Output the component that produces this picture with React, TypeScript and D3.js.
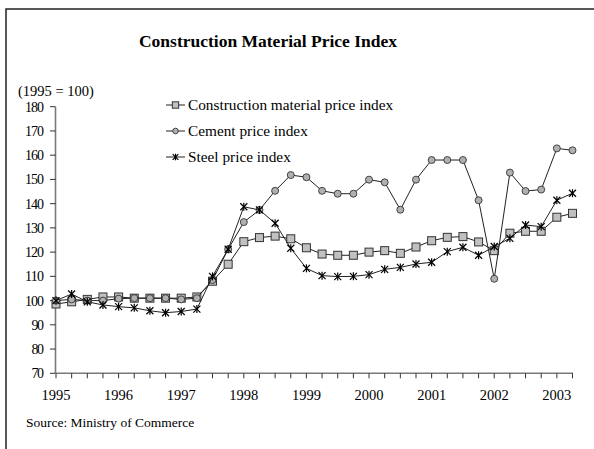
import * as React from "react"
import * as d3 from "d3"

const years = ["1995", "1996", "1997", "1998", "1999", "2000", "2001", "2002", "2003"]
const quarters = years.flatMap((y) => ["Q1", "Q2", "Q3", "Q4"].map((q) => `${y} ${q}`)).slice(0, 34)

const construction = [
  98.6, 99.5, 100.5, 101.5, 101.5, 101, 101, 101, 101, 101.5,
  108, 115, 124.3, 126, 126.6, 125.5, 121.8, 119.2, 118.7, 118.7,
  120, 120.6, 119.5, 122.1, 124.7, 126.1, 126.4, 124.2, 120.6, 127.8,
  128.6, 128.6, 134.4, 136,
]
const cement = [
  100, 100.5, 100, 100, 100.8, 101, 101, 101, 100.5, 101,
  108.5, 121.2, 132.4, 137.4, 145.3, 151.8, 150.9, 145.3, 144.1, 144.1,
  149.9, 148.8, 137.5, 149.9, 158, 158, 158, 141.4, 109, 152.8,
  145.2, 145.8, 162.8, 162,
]
const steel = [
  100, 102.7, 99.5, 98.2, 97.5, 97, 95.8, 95, 95.5, 96.5,
  110, 121.2, 138.7, 137.4, 131.9, 121.6, 113.3, 110.3, 109.9, 110,
  110.7, 112.9, 113.7, 115.1, 115.8, 120.2, 122, 118.7, 122.3, 125.7,
  131.2, 130.5, 141.4, 144.3,
]
const yTicks = [70, 80, 90, 100, 110, 120, 130, 140, 150, 160, 170, 180]

const seriesNames = [
  "Construction material price index",
  "Cement price index",
  "Steel price index",
]

const font = "'Liberation Serif', 'Times New Roman', serif"

function Marker({ kind, x, y, s = 1 }: { kind: number; x: number; y: number; s?: number }) {
  if (kind === 0)
    return (
      <rect
        x={x - 4 * s}
        y={y - 4 * s}
        width={8 * s}
        height={8 * s}
        fill="#c0c0c0"
        stroke="#333"
        strokeWidth={1}
      />
    )
  if (kind === 1) return <circle cx={x} cy={y} r={3.5 * s} fill="#b0b0b0" stroke="#333" strokeWidth={0.9} />
  const r = 3.5 * s
  return (
    <g stroke="#000" strokeWidth={1.2}>
      <line x1={x - r} y1={y - r} x2={x + r} y2={y + r} />
      <line x1={x - r} y1={y + r} x2={x + r} y2={y - r} />
      <line x1={x} y1={y - r - 0.5} x2={x} y2={y + r + 0.5} />
    </g>
  )
}

export default function App() {
  const width = 594
  const height = 449

  const x = d3.scalePoint<string>().domain(quarters).range([56, 572.5])
  const y = d3.scaleLinear().domain([70, 180]).range([373.3, 106.7])

  const line = d3
    .line<number>()
    .x((_, i) => x(quarters[i]) as number)
    .y((d) => y(d))

  const allSeries = [construction, cement, steel]
  const axisColor = "#7a7a7a"

  return (
    <svg
      width={width}
      height={height}
      style={{ position: "absolute", left: 0, top: 0, background: "#fff" }}
      fontFamily={font}
    >
      {/* frame */}
      <rect x={6} y={9} width={700} height={600} fill="none" stroke="#222" strokeWidth={1.5} />

      <text x={268} y={47} textAnchor="middle" fontSize={17.5} fontWeight="bold">
        Construction Material Price Index
      </text>
      <text x={18} y={96} fontSize={14.5}>
        (1995 = 100)
      </text>

      {/* y axis */}
      <line x1={55.5} x2={55.5} y1={y(180)} y2={y(70)} stroke={axisColor} strokeWidth={1.6} />
      {yTicks.map((t) => (
        <g key={t}>
          <line x1={50} x2={55.5} y1={y(t)} y2={y(t)} stroke="#333" strokeWidth={1} />
          <text x={44} y={y(t) + 5} textAnchor="end" fontSize={14} textLength={t >= 100 ? 19 : 12.5}>
            {t}
          </text>
        </g>
      ))}

      {/* x axis */}
      <line x1={55.5} x2={573} y1={y(70)} y2={y(70)} stroke={axisColor} strokeWidth={1.6} />
      {quarters.map((q) => (
        <line key={q} x1={x(q)} x2={x(q)} y1={y(70)} y2={y(70) + 5} stroke="#333" strokeWidth={1} />
      ))}
      {years.map((yr) => (
        <text key={yr} x={x(`${yr} Q1`)} y={400} textAnchor="middle" fontSize={14.5}>
          {yr}
        </text>
      ))}

      {/* series */}
      {allSeries.map((s, k) => (
        <g key={k}>
          <path d={line(s) ?? ""} fill="none" stroke="#222" strokeWidth={1} />
          {s.map((v, i) => (
            <Marker key={i} kind={k} x={x(quarters[i]) as number} y={y(v)} />
          ))}
        </g>
      ))}

      {/* legend */}
      {seriesNames.map((name, k) => {
        const ly = 105 + k * 26
        return (
          <g key={name}>
            <line x1={166} x2={185} y1={ly} y2={ly} stroke="#222" strokeWidth={1} />
            <Marker kind={k} x={175.5} y={ly} s={0.8} />
            <text x={188} y={ly + 5} fontSize={15.3}>
              {name}
            </text>
          </g>
        )
      })}

      <text x={26} y={427} fontSize={13.5}>
        Source:  Ministry of Commerce
      </text>
    </svg>
  )
}
